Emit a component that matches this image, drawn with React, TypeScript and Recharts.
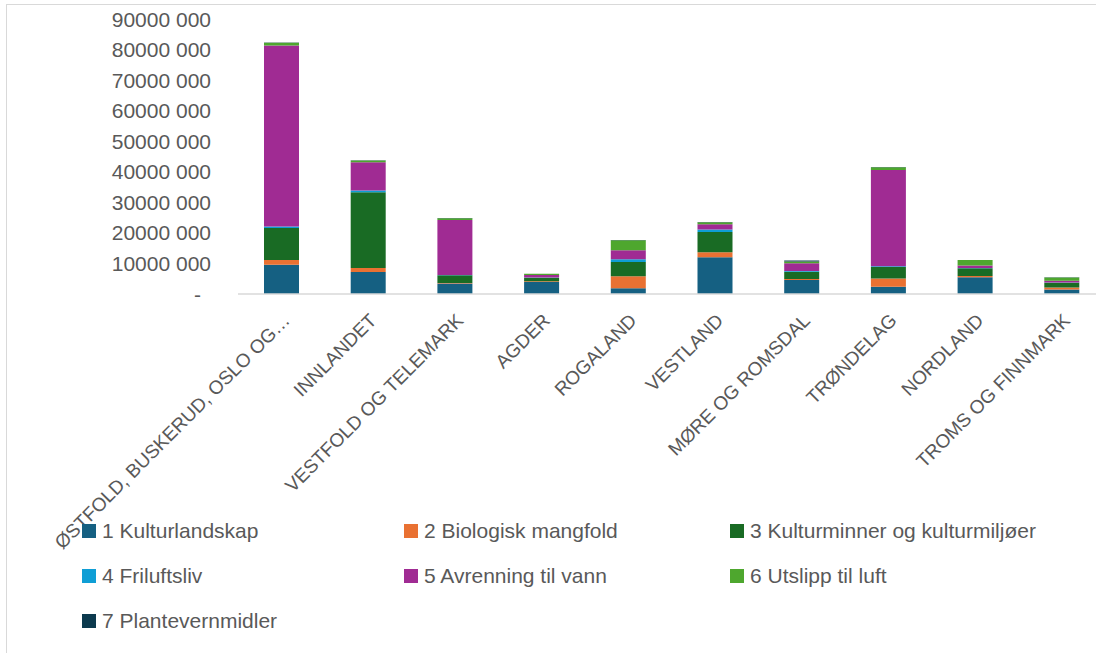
import React from "react";
import { BarChart, Bar, XAxis, YAxis } from "recharts";

const categories = [
  "ØSTFOLD, BUSKERUD, OSLO OG AKERSHUS",
  "INNLANDET",
  "VESTFOLD OG TELEMARK",
  "AGDER",
  "ROGALAND",
  "VESTLAND",
  "MØRE OG ROMSDAL",
  "TRØNDELAG",
  "NORDLAND",
  "TROMS OG FINNMARK",
];

const kulturlandskap = [9600000, 7200000, 3400000, 3900000, 1900000, 12000000, 4600000, 2400000, 5500000, 1500000];
const biologiskMangfold = [1500000, 1300000, 200000, 300000, 3900000, 1700000, 300000, 2700000, 400000, 600000];
const kulturminner = [10500000, 24800000, 2500000, 1100000, 4700000, 6600000, 2400000, 3700000, 2500000, 1600000];
const friluftsliv = [500000, 600000, 100000, 100000, 900000, 800000, 200000, 300000, 100000, 100000];
const avrenning = [59200000, 9200000, 18000000, 800000, 2900000, 1700000, 2600000, 31500000, 800000, 500000];
const utslipp = [900000, 600000, 600000, 400000, 3300000, 700000, 500000, 900000, 1800000, 1100000];
const plantevernmidler = [100000, 100000, 50000, 50000, 50000, 50000, 400000, 50000, 50000, 50000];

const yTicks = [0, 10000000, 20000000, 30000000, 40000000, 50000000, 60000000, 70000000, 80000000, 90000000];

const series = [
  { key: "k1", name: "1 Kulturlandskap", color: "#156082", values: kulturlandskap },
  { key: "k2", name: "2 Biologisk mangfold", color: "#E97132", values: biologiskMangfold },
  { key: "k3", name: "3 Kulturminner og kulturmiljøer", color: "#196B24", values: kulturminner },
  { key: "k4", name: "4 Friluftsliv", color: "#0F9ED5", values: friluftsliv },
  { key: "k5", name: "5 Avrenning til vann", color: "#A02B93", values: avrenning },
  { key: "k6", name: "6 Utslipp til luft", color: "#4EA72E", values: utslipp },
  { key: "k7", name: "7 Plantevernmidler", color: "#0C3A4E", values: plantevernmidler },
];

const data = categories.map((c, i) => {
  const row: Record<string, any> = { name: c };
  series.forEach((s) => (row[s.key] = s.values[i]));
  return row;
});

const FONT = "'Liberation Sans', Arial, sans-serif";
const TEXT = "#595959";

const formatY = (v: number) => (v === 0 ? "-" : `${Math.round(v / 1000)} 000`);

const truncate = (s: string) => (s.length > 28 ? s.slice(0, 26) + "…" : s);

const XTick = (props: any) => {
  const { x, payload } = props;
  const px = x;
  const py = 312;
  return (
    <text
      x={px}
      y={py}
      dy="0.72em"
      textAnchor="end"
      transform={`rotate(-45, ${px}, ${py})`}
      fill={TEXT}
      fontSize={19}
      fontFamily={FONT}
    >
      {truncate(payload.value)}
    </text>
  );
};

const YTick = (props: any) => {
  const { x, y, payload } = props;
  const isZero = payload.value === 0;
  return (
    <text
      x={isZero ? x - 10 : x}
      y={y}
      dy="0.36em"
      textAnchor="end"
      fill={TEXT}
      fontSize={21}
      fontFamily={FONT}
    >
      {formatY(payload.value)}
    </text>
  );
};

const legendCols = [82, 404, 730];
const legendRows = [531, 576, 621];

export default function App() {
  return (
    <div
      style={{
        position: "fixed",
        left: 0,
        top: 0,
        width: 1096,
        height: 653,
        overflow: "hidden",
        background: "#fff",
      }}
    >
      <div
        style={{
          position: "absolute",
          left: 6,
          top: 4,
          width: 1200,
          height: 700,
          borderLeft: "1.5px solid #d9d9d9",
          borderTop: "1.5px solid #d9d9d9",
        }}
      />
      <div style={{ position: "absolute", left: 0, top: 0 }}>
        <BarChart
          width={1110}
          height={653}
          data={data}
          margin={{ top: 19, right: 5, left: 8, bottom: 0 }}
          barSize={35}
        >
          <XAxis
            dataKey="name"
            interval={0}
            tickLine={false}
            axisLine={{ stroke: "#d9d9d9", strokeWidth: 1.5 }}
            height={359}
            tickSize={0}
            tick={<XTick />}
          />
          <YAxis
            width={230}
            domain={[0, 90000000]}
            ticks={yTicks}
            interval={0}
            axisLine={false}
            tickLine={false}
            tickSize={0}
            tickMargin={27}
            tick={<YTick />}
          />
          {series.map((s) => (
            <Bar
              key={s.key}
              dataKey={s.key}
              name={s.name}
              stackId="a"
              fill={s.color}
              isAnimationActive={false}
            />
          ))}
        </BarChart>
      </div>
      {series.map((s, i) => {
        const col = i % 3;
        const row = Math.floor(i / 3);
        return (
          <div
            key={s.key}
            style={{
              position: "absolute",
              left: legendCols[col],
              top: legendRows[row] - 13,
              height: 26,
              display: "flex",
              alignItems: "center",
              fontFamily: FONT,
              fontSize: 21,
              color: TEXT,
              whiteSpace: "nowrap",
            }}
          >
            <span
              style={{
                display: "inline-block",
                width: 14,
                height: 14,
                background: s.color,
                marginRight: 6,
              }}
            />
            <span>{s.name}</span>
          </div>
        );
      })}
    </div>
  );
}
